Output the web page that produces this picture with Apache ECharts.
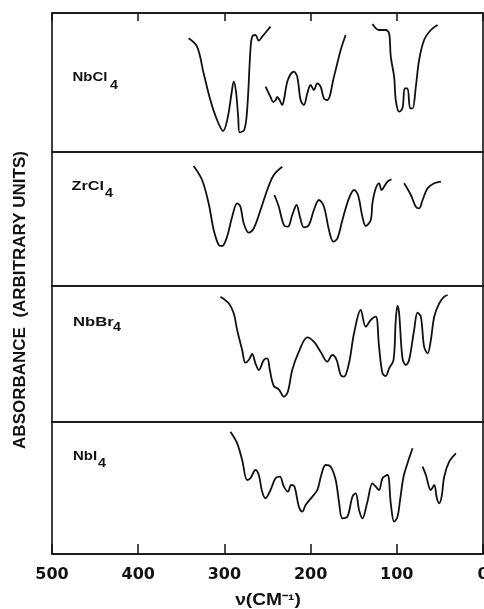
<!DOCTYPE html>
<html><head><meta charset="utf-8">
<script src="https://cdn.jsdelivr.net/npm/echarts@6/dist/echarts.min.js"></script>
<style>html,body{margin:0;padding:0;background:#fff}#c{width:484px;height:609px}</style>
</head><body><div id="c"></div>
<script>
// x ticks (wavenumber, cm^-1)
var xTicks = [500, 400, 300, 200, 100, 0];
var panelNames = ['NbCl', 'ZrCl', 'NbBr', 'NbI'];
var xTitle = 'ν(CM⁻¹)';
var yTitle = 'ABSORBANCE  (ARBITRARY UNITS)';

// NbCl4 spectrum segments: [wavenumber, relative level]
var nbcl4A = [[341.5,113.7],[331.7,105.3],[324.1,78.7],[316.3,52],[308.5,32],[301.5,21],[296,35],[291.5,60],[289.2,70.3],[286.5,60],[284,35],[282.2,19.7],[277,22],[273.6,42],[269.8,102],[267.8,115.3],[264,117],[260.1,111.3],[256.2,115.3],[246.5,125.3]];
var nbcl4B = [[252.3,65.3],[246.5,55],[243.4,50],[240.5,52],[238.7,55],[236,52],[233,47],[231,52],[226.4,72],[219.4,80.3],[215.5,75.3],[211.6,52],[207.8,47],[203.8,58.7],[200,67],[196.2,62],[192.2,68.7],[188.4,65.3],[184.5,53.7],[180.6,52],[172.9,75.3],[165.1,102],[159.3,117]];
var nbcl4C = [[128.3,128],[120.6,122],[112.8,122],[108.9,118.7],[107,95.3],[103.1,75.3],[101.2,52],[97.3,40.3],[93.4,43.7],[90.7,63.7],[87.6,63.7],[84.5,43.7],[81.7,43.7],[77.9,65.3],[74.1,92],[68.3,112],[60.5,122],[52.7,127]];
// ZrCl4
var zrcl4A = [[335.7,120],[325.9,106],[318.3,82.7],[312.4,56],[306.6,41],[302.7,40],[296.9,49.3],[291,69.3],[285.2,82.7],[281.4,79.3],[277.6,62.7],[271.7,53.3],[265.9,57.7],[258.1,76],[250.3,96],[242.7,111],[232.9,119.3]];
var zrcl4B = [[241.9,91],[236.9,79.3],[231,61],[226.4,59.3],[221.3,71],[216.3,81],[212.4,69.3],[207.8,58.7],[202,61],[196.2,76],[190.3,86],[184.5,79.3],[178.7,56],[173.6,44.3],[168.9,47.7],[163.1,66],[155.5,87.7],[149.6,96],[145,91],[139.9,69.3],[136,60],[130.2,66],[128.3,82.7],[124.4,97.7],[120.6,102.7],[117.8,96],[114.8,99.3],[110.8,104.3],[106.2,106.7]];
var zrcl4C = [[91.5,102.7],[83.7,91],[77.9,79.3],[74.1,77.7],[70.1,86],[64.3,97.7],[56.6,102.7],[48.8,104.3]];
// NbBr4
var nbbr4A = [[304.6,125.3],[295,118.7],[289.2,108.7],[285.2,92],[279.4,72],[275.6,59.3],[271.7,62],[267.8,68],[264,58.7],[260.1,52],[254.3,62],[250.3,63.7],[247.3,52],[242.7,36],[236.9,32.7],[231,25.3],[226.4,30.3],[221.3,52],[213.6,70.3],[203.8,84.7],[196.2,80.3],[188.4,70.3],[180.6,60.3],[174.8,67],[169.8,62],[165.1,47],[161.3,45.3],[155.5,58.7],[149.6,88.7],[141.9,112],[136,95.3],[130.2,102],[124.4,105.3],[120.6,75.3],[116.6,48.7],[112.8,46],[108.9,53.7],[103.8,62],[101.2,102],[99.2,116],[97.3,108.7],[93.4,63.7],[89.5,57],[85.7,62],[79.9,92],[75.9,109.3],[72.1,105.3],[68.3,75.3],[64.3,68.7],[60.5,82],[56.6,105.3],[50.8,118.7],[45,125.3],[41,127]];
// NbI4
var nbi4A = [[293,122.3],[285.2,110.7],[279.4,94],[273.6,74],[269.8,75.7],[264,84],[260.1,79],[256.2,62.3],[252.3,55.7],[246.5,64],[240.7,75.7],[235.7,77.3],[231,67.3],[226.4,62.3],[222.4,69],[218.6,67.3],[213.6,47.3],[209.6,42.3],[205.8,49],[198,57.3],[192.2,64],[187.6,79],[182.6,89],[176.7,87.3],[170.9,74],[167.1,52.3],[163.1,35.7],[157.3,37.3],[151.5,57.3],[147.7,60.7],[143.8,44],[139.9,35.7],[134.1,52.3],[128.3,70.7],[124.4,67.3],[120.6,64],[116.6,75.7],[110.8,79],[107,50.7],[103.1,32.3],[99.2,37.3],[96.2,54],[92.2,77.3],[87.6,90.7],[81.7,105.7]];
var nbi4B = [[70.1,87.3],[66.3,79],[60.5,64],[56.6,69],[53.5,55.7],[50.8,50.7],[48,57.3],[45,77.3],[39.2,92.3],[31.4,100.7]];

var panelSeries = [[nbcl4A, nbcl4B, nbcl4C], [zrcl4A, zrcl4B, zrcl4C], [nbbr4A], [nbi4A, nbi4B]];

var tops = [13, 152, 286, 422];
var heights = [139, 134, 136, 132];
var FONT = '"Liberation Sans", Arial, sans-serif';

var grids = [], xAxes = [], yAxes = [], series = [];
for (var i = 0; i < 4; i++) {
  grids.push({left: 52, right: 1, top: tops[i], height: heights[i], show: true,
    outerBoundsMode: 'none', containLabel: false,
    borderColor: '#111', borderWidth: 1.6, backgroundColor: 'transparent'});
  var isTop = i === 0, isBot = i === 3;
  xAxes.push({type: 'value', gridIndex: i, inverse: true,
    min: xTicks[xTicks.length - 1], max: xTicks[0], interval: xTicks[0] - xTicks[1],
    position: isTop ? 'top' : 'bottom',
    axisLine: {show: isTop || isBot, onZero: false, lineStyle: {color: '#111', width: 1.6}},
    axisTick: {show: isTop || isBot, inside: true, length: isTop ? 8 : 10, lineStyle: {color: '#111', width: 1.5}},
    axisLabel: {show: isBot, color: '#111', fontSize: 16, fontWeight: 'bold', fontFamily: '"DejaVu Sans", sans-serif', margin: 13},
    splitLine: {show: false}
  });
  yAxes.push({type: 'value', gridIndex: i, min: 0, max: heights[i], show: false, splitLine: {show: false}});
  panelSeries[i].forEach(function (seg) {
    series.push({type: 'line', xAxisIndex: i, yAxisIndex: i, data: seg, smooth: 0.35,
      showSymbol: false, silent: true, lineStyle: {color: '#111', width: 1.8}});
  });
}

// [nameX, nameCenterY, nameScaleX, subX, subCenterY]
var labelPos = [[72.5, 77, 1.15, 110, 85.5], [71.5, 186.7, 1.25, 105, 193.5], [73, 322.5, 1.28, 113, 327.5], [73, 456, 1.15, 98, 463]];
var graphics = [];
for (var j = 0; j < 4; j++) {
  var p = labelPos[j];
  graphics.push({type: 'text', x: p[0], y: p[1], scaleX: p[2], style: {text: panelNames[j], fill: '#111', font: 'bold 13px ' + FONT, verticalAlign: 'middle'}});
  graphics.push({type: 'text', x: p[3], y: p[4], scaleX: 1.1, style: {text: '4', fill: '#111', font: 'bold 13px ' + FONT, verticalAlign: 'middle'}});
}
graphics.push({type: 'text', x: 268, y: 601, scaleX: 1.2, style: {text: xTitle, fill: '#111', font: 'bold 16px ' + FONT, align: 'center', verticalAlign: 'middle'}});
graphics.push({type: 'text', x: 20, y: 300, rotation: Math.PI / 2, style: {text: yTitle, fill: '#111', font: 'bold 17px ' + FONT, align: 'center', verticalAlign: 'middle'}});

var chart = echarts.init(document.getElementById('c'), null, {renderer: 'canvas'});
chart.setOption({animation: false, grid: grids, xAxis: xAxes, yAxis: yAxes, series: series, graphic: graphics});
</script></body></html>
